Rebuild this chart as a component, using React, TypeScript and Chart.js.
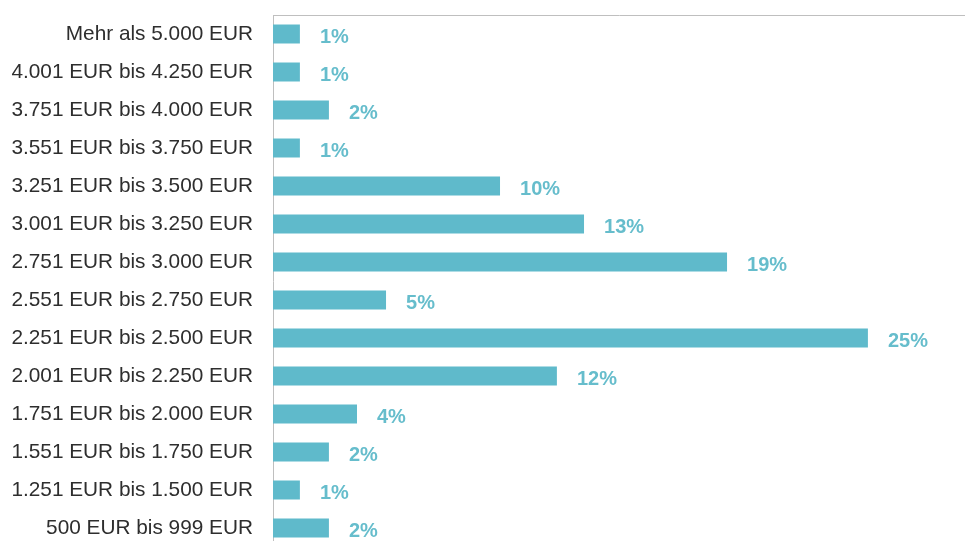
import React, { useEffect, useRef } from "react";
import { Chart, registerables } from "chart.js";

Chart.register(...registerables);

const categories = [
  "Mehr als 5.000 EUR",
  "4.001 EUR bis 4.250 EUR",
  "3.751 EUR bis 4.000 EUR",
  "3.551 EUR bis 3.750 EUR",
  "3.251 EUR bis 3.500 EUR",
  "3.001 EUR bis 3.250 EUR",
  "2.751 EUR bis 3.000 EUR",
  "2.551 EUR bis 2.750 EUR",
  "2.251 EUR bis 2.500 EUR",
  "2.001 EUR bis 2.250 EUR",
  "1.751 EUR bis 2.000 EUR",
  "1.551 EUR bis 1.750 EUR",
  "1.251 EUR bis 1.500 EUR",
  "500 EUR bis 999 EUR",
];

const shares = [1.13, 1.13, 2.35, 1.13, 9.54, 13.07, 19.08, 4.75, 25.0, 11.93, 3.53, 2.35, 1.13, 2.35];

const BAR_COLOR = "#5FBACB";
const LABEL_COLOR = "#66BDCC";

const valueLabels = {
  id: "valueLabels",
  afterDatasetsDraw(chart: any) {
    const ctx = chart.ctx;
    const meta = chart.getDatasetMeta(0);
    ctx.save();
    ctx.font = "bold 20px 'Liberation Sans', Arial, sans-serif";
    ctx.fillStyle = LABEL_COLOR;
    ctx.textAlign = "left";
    ctx.textBaseline = "middle";
    meta.data.forEach((bar: any, i: number) => {
      const v = shares[i];
      ctx.fillText(Math.round(v) + "%", bar.x + 20, bar.y + 3);
    });
    ctx.restore();
  },
};

export default function App() {
  const ref = useRef<HTMLCanvasElement | null>(null);

  useEffect(() => {
    if (!ref.current) return;
    const chart = new Chart(ref.current, {
      type: "bar",
      data: {
        labels: categories,
        datasets: [
          {
            data: shares,
            backgroundColor: BAR_COLOR,
            borderWidth: 0,
            barPercentage: 0.5,
            categoryPercentage: 1,
          },
        ],
      },
      options: {
        indexAxis: "y",
        animation: false,
        responsive: false,
        maintainAspectRatio: false,
        layout: { padding: { top: 0, bottom: 0, left: 0, right: 0 } },
        plugins: {
          legend: { display: false },
          tooltip: { enabled: false },
        },
        scales: {
          x: {
            position: "top",
            min: 0,
            max: 29.08,
            grid: { display: false, drawTicks: false },
            ticks: { display: false },
            border: { display: true, color: "#BFBFBF", width: 1 },
            afterFit: (scale: any) => {
              scale.height = 0;
            },
          },
          y: {
            grid: { display: false, drawTicks: false },
            border: { display: true, color: "#BFBFBF", width: 1 },
            ticks: {
              padding: 20,
              color: "#2E2E2E",
              font: { family: "'Liberation Sans', Arial, sans-serif", size: 20.8 },
              autoSkip: false,
            },
            afterFit: (scale: any) => {
              scale.width = 273;
              scale.paddingTop = 0;
              scale.paddingBottom = 0;
            },
          },
        },
      },
      plugins: [valueLabels],
    });
    const area = chart.chartArea;
    const canvas = ref.current;
    const offsetTop = 15 - area.top;
    canvas.style.marginTop = offsetTop + "px";
    return () => chart.destroy();
  }, []);

  return (
    <div
      style={{
        position: "absolute",
        left: 0,
        top: 0,
        width: 965,
        height: 541,
        overflow: "hidden",
        background: "#ffffff",
      }}
    >
      <canvas ref={ref} width={965} height={532} style={{ display: "block" }} />
    </div>
  );
}
